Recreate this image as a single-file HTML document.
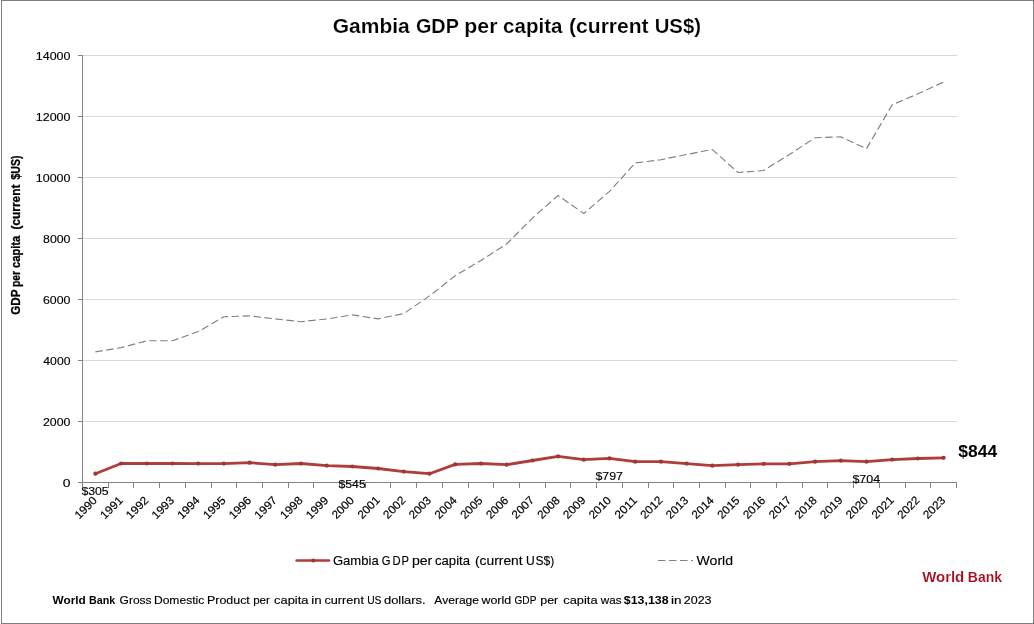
<!DOCTYPE html>
<html lang="en">
<head>
<meta charset="utf-8">
<title>Gambia GDP per capita (current US$)</title>
<style>
html,body{margin:0;padding:0;background:#fff;}
body{width:1034px;height:624px;overflow:hidden;}
svg{display:block;font-family:"Liberation Sans",sans-serif;fill:#000;}
.b{font-weight:bold;}
text{stroke-linejoin:round;}
</style>
</head>
<body>
<svg width="1034" height="624" viewBox="0 0 1034 624">
<rect x="0" y="0" width="1034" height="624" fill="#fff"/>
<g id="frame" fill="#808080"><rect x="1" y="0" width="1033" height="1"/><rect x="1" y="623" width="1033" height="1"/><rect x="1" y="0" width="1" height="624"/><rect x="1033" y="0" width="1" height="624"/></g>
<g id="grid">
<line x1="82.5" y1="421.5" x2="957.0" y2="421.5" stroke="#d8d8d8" stroke-width="1"/>
<line x1="82.5" y1="360.5" x2="957.0" y2="360.5" stroke="#d8d8d8" stroke-width="1"/>
<line x1="82.5" y1="299.5" x2="957.0" y2="299.5" stroke="#d8d8d8" stroke-width="1"/>
<line x1="82.5" y1="238.5" x2="957.0" y2="238.5" stroke="#d8d8d8" stroke-width="1"/>
<line x1="82.5" y1="177.5" x2="957.0" y2="177.5" stroke="#d8d8d8" stroke-width="1"/>
<line x1="82.5" y1="116.5" x2="957.0" y2="116.5" stroke="#d8d8d8" stroke-width="1"/>
<line x1="82.5" y1="55.5" x2="957.0" y2="55.5" stroke="#d8d8d8" stroke-width="1"/>
</g>
<g id="axes">
<line x1="82.5" y1="55.0" x2="82.5" y2="488.0" stroke="#838383" stroke-width="1"/>
<line x1="78.0" y1="482.5" x2="957.0" y2="482.5" stroke="#838383" stroke-width="1"/>
<line x1="78.0" y1="421.5" x2="82.5" y2="421.5" stroke="#838383" stroke-width="1"/>
<line x1="78.0" y1="360.5" x2="82.5" y2="360.5" stroke="#838383" stroke-width="1"/>
<line x1="78.0" y1="299.5" x2="82.5" y2="299.5" stroke="#838383" stroke-width="1"/>
<line x1="78.0" y1="238.5" x2="82.5" y2="238.5" stroke="#838383" stroke-width="1"/>
<line x1="78.0" y1="177.5" x2="82.5" y2="177.5" stroke="#838383" stroke-width="1"/>
<line x1="78.0" y1="116.5" x2="82.5" y2="116.5" stroke="#838383" stroke-width="1"/>
<line x1="78.0" y1="55.5" x2="82.5" y2="55.5" stroke="#838383" stroke-width="1"/>
<line x1="108.5" y1="482.5" x2="108.5" y2="488.0" stroke="#838383" stroke-width="1"/>
<line x1="133.5" y1="482.5" x2="133.5" y2="488.0" stroke="#838383" stroke-width="1"/>
<line x1="159.5" y1="482.5" x2="159.5" y2="488.0" stroke="#838383" stroke-width="1"/>
<line x1="185.5" y1="482.5" x2="185.5" y2="488.0" stroke="#838383" stroke-width="1"/>
<line x1="211.5" y1="482.5" x2="211.5" y2="488.0" stroke="#838383" stroke-width="1"/>
<line x1="236.5" y1="482.5" x2="236.5" y2="488.0" stroke="#838383" stroke-width="1"/>
<line x1="262.5" y1="482.5" x2="262.5" y2="488.0" stroke="#838383" stroke-width="1"/>
<line x1="288.5" y1="482.5" x2="288.5" y2="488.0" stroke="#838383" stroke-width="1"/>
<line x1="313.5" y1="482.5" x2="313.5" y2="488.0" stroke="#838383" stroke-width="1"/>
<line x1="339.5" y1="482.5" x2="339.5" y2="488.0" stroke="#838383" stroke-width="1"/>
<line x1="365.5" y1="482.5" x2="365.5" y2="488.0" stroke="#838383" stroke-width="1"/>
<line x1="390.5" y1="482.5" x2="390.5" y2="488.0" stroke="#838383" stroke-width="1"/>
<line x1="416.5" y1="482.5" x2="416.5" y2="488.0" stroke="#838383" stroke-width="1"/>
<line x1="442.5" y1="482.5" x2="442.5" y2="488.0" stroke="#838383" stroke-width="1"/>
<line x1="468.5" y1="482.5" x2="468.5" y2="488.0" stroke="#838383" stroke-width="1"/>
<line x1="493.5" y1="482.5" x2="493.5" y2="488.0" stroke="#838383" stroke-width="1"/>
<line x1="519.5" y1="482.5" x2="519.5" y2="488.0" stroke="#838383" stroke-width="1"/>
<line x1="545.5" y1="482.5" x2="545.5" y2="488.0" stroke="#838383" stroke-width="1"/>
<line x1="570.5" y1="482.5" x2="570.5" y2="488.0" stroke="#838383" stroke-width="1"/>
<line x1="596.5" y1="482.5" x2="596.5" y2="488.0" stroke="#838383" stroke-width="1"/>
<line x1="622.5" y1="482.5" x2="622.5" y2="488.0" stroke="#838383" stroke-width="1"/>
<line x1="648.5" y1="482.5" x2="648.5" y2="488.0" stroke="#838383" stroke-width="1"/>
<line x1="673.5" y1="482.5" x2="673.5" y2="488.0" stroke="#838383" stroke-width="1"/>
<line x1="699.5" y1="482.5" x2="699.5" y2="488.0" stroke="#838383" stroke-width="1"/>
<line x1="725.5" y1="482.5" x2="725.5" y2="488.0" stroke="#838383" stroke-width="1"/>
<line x1="750.5" y1="482.5" x2="750.5" y2="488.0" stroke="#838383" stroke-width="1"/>
<line x1="776.5" y1="482.5" x2="776.5" y2="488.0" stroke="#838383" stroke-width="1"/>
<line x1="802.5" y1="482.5" x2="802.5" y2="488.0" stroke="#838383" stroke-width="1"/>
<line x1="827.5" y1="482.5" x2="827.5" y2="488.0" stroke="#838383" stroke-width="1"/>
<line x1="853.5" y1="482.5" x2="853.5" y2="488.0" stroke="#838383" stroke-width="1"/>
<line x1="879.5" y1="482.5" x2="879.5" y2="488.0" stroke="#838383" stroke-width="1"/>
<line x1="905.5" y1="482.5" x2="905.5" y2="488.0" stroke="#838383" stroke-width="1"/>
<line x1="930.5" y1="482.5" x2="930.5" y2="488.0" stroke="#838383" stroke-width="1"/>
<line x1="956.5" y1="482.5" x2="956.5" y2="488.0" stroke="#838383" stroke-width="1"/>
</g>
<polyline id="world" points="95.4,351.9 121.1,347.6 146.8,340.8 172.5,340.7 198.2,331.6 223.9,316.7 249.6,315.9 275.3,318.9 301.0,321.7 326.7,319.0 352.4,314.9 378.1,318.8 403.8,313.6 429.5,295.9 455.2,275.8 480.9,260.4 506.6,244.0 532.4,218.1 558.1,195.6 583.8,213.5 609.5,191.4 635.2,163.0 660.9,159.7 686.6,154.5 712.3,149.5 738.0,172.5 763.7,170.5 789.4,154.5 815.1,137.7 840.8,136.9 866.5,148.7 892.2,104.8 917.9,93.8 943.6,82.1" fill="none" stroke="#808080" stroke-width="1.15" stroke-dasharray="7.5 3.5"/>
<polyline id="gambia" points="95.4,473.7 121.1,463.5 146.8,463.5 172.5,463.5 198.2,463.6 223.9,463.6 249.6,462.7 275.3,464.7 301.0,463.5 326.7,465.6 352.4,466.5 378.1,468.5 403.8,471.6 429.5,473.7 455.2,464.4 480.9,463.5 506.6,464.7 532.4,460.5 558.1,456.4 583.8,459.7 609.5,458.4 635.2,461.7 660.9,461.7 686.6,463.6 712.3,465.7 738.0,464.7 763.7,463.8 789.4,463.8 815.1,461.7 840.8,460.6 866.5,461.7 892.2,459.6 917.9,458.5 943.6,457.8" fill="none" stroke="#ad3e3b" stroke-width="2.8" stroke-linejoin="round" stroke-linecap="round"/>
<g id="markers" fill="#a23633">
<circle cx="95.4" cy="473.7" r="2.1"/>
<circle cx="121.1" cy="463.5" r="2.1"/>
<circle cx="146.8" cy="463.5" r="2.1"/>
<circle cx="172.5" cy="463.5" r="2.1"/>
<circle cx="198.2" cy="463.6" r="2.1"/>
<circle cx="223.9" cy="463.6" r="2.1"/>
<circle cx="249.6" cy="462.7" r="2.1"/>
<circle cx="275.3" cy="464.7" r="2.1"/>
<circle cx="301.0" cy="463.5" r="2.1"/>
<circle cx="326.7" cy="465.6" r="2.1"/>
<circle cx="352.4" cy="466.5" r="2.1"/>
<circle cx="378.1" cy="468.5" r="2.1"/>
<circle cx="403.8" cy="471.6" r="2.1"/>
<circle cx="429.5" cy="473.7" r="2.1"/>
<circle cx="455.2" cy="464.4" r="2.1"/>
<circle cx="480.9" cy="463.5" r="2.1"/>
<circle cx="506.6" cy="464.7" r="2.1"/>
<circle cx="532.4" cy="460.5" r="2.1"/>
<circle cx="558.1" cy="456.4" r="2.1"/>
<circle cx="583.8" cy="459.7" r="2.1"/>
<circle cx="609.5" cy="458.4" r="2.1"/>
<circle cx="635.2" cy="461.7" r="2.1"/>
<circle cx="660.9" cy="461.7" r="2.1"/>
<circle cx="686.6" cy="463.6" r="2.1"/>
<circle cx="712.3" cy="465.7" r="2.1"/>
<circle cx="738.0" cy="464.7" r="2.1"/>
<circle cx="763.7" cy="463.8" r="2.1"/>
<circle cx="789.4" cy="463.8" r="2.1"/>
<circle cx="815.1" cy="461.7" r="2.1"/>
<circle cx="840.8" cy="460.6" r="2.1"/>
<circle cx="866.5" cy="461.7" r="2.1"/>
<circle cx="892.2" cy="459.6" r="2.1"/>
<circle cx="917.9" cy="458.5" r="2.1"/>
<circle cx="943.6" cy="457.8" r="2.1"/>
</g>
<g id="title">
<text class="b" stroke="#fff" stroke-width="0.15" font-size="19.7" transform="translate(332.79 33.40) scale(1.0648 1)">Gambia</text>
<text class="b" stroke="#fff" stroke-width="0.15" font-size="19.7" transform="translate(415.93 33.40) scale(1.0067 1)">GDP</text>
<text class="b" stroke="#fff" stroke-width="0.15" font-size="19.7" transform="translate(464.34 33.40) scale(1.0789 1)">per</text>
<text class="b" stroke="#fff" stroke-width="0.15" font-size="19.7" transform="translate(503.10 33.40) scale(1.0428 1)">capita</text>
<text class="b" stroke="#fff" stroke-width="0.15" font-size="19.7" transform="translate(569.07 33.40) scale(1.0692 1)">(current</text>
<text class="b" stroke="#fff" stroke-width="0.15" font-size="19.7" transform="translate(654.71 33.40) scale(1.0304 1)">US$)</text>
</g>
<g id="yaxis">
<text stroke="#000" stroke-width="0.15" font-size="11.5" transform="translate(62.84 487.00) scale(1.2082 1)">0</text>
<text stroke="#000" stroke-width="0.15" font-size="11.5" transform="translate(42.98 426.00) scale(1.0752 1)">2000</text>
<text stroke="#000" stroke-width="0.15" font-size="11.5" transform="translate(43.29 365.00) scale(1.0628 1)">4000</text>
<text stroke="#000" stroke-width="0.15" font-size="11.5" transform="translate(42.98 304.00) scale(1.0752 1)">6000</text>
<text stroke="#000" stroke-width="0.15" font-size="11.5" transform="translate(43.04 243.00) scale(1.0727 1)">8000</text>
<text stroke="#000" stroke-width="0.15" font-size="11.5" transform="translate(35.76 182.00) scale(1.0865 1)">10000</text>
<text stroke="#000" stroke-width="0.15" font-size="11.5" transform="translate(35.76 121.00) scale(1.0865 1)">12000</text>
<text stroke="#000" stroke-width="0.15" font-size="11.5" transform="translate(35.76 60.00) scale(1.0865 1)">14000</text>
</g>
<g id="ytitle">
<text class="b" stroke="#000" stroke-width="0.3" font-size="12.0" transform="translate(19.7 0) rotate(-90) translate(-314.87 0.00) scale(0.9745 1)">GDP</text>
<text class="b" stroke="#000" stroke-width="0.3" font-size="12.0" transform="translate(19.7 0) rotate(-90) translate(-286.97 0.00) scale(0.8588 1)">per</text>
<text class="b" stroke="#000" stroke-width="0.3" font-size="12.0" transform="translate(19.7 0) rotate(-90) translate(-267.94 0.00) scale(0.9253 1)">capita</text>
<text class="b" stroke="#000" stroke-width="0.3" font-size="12.0" transform="translate(19.7 0) rotate(-90) translate(-229.60 0.00) scale(0.9937 1)">(current</text>
<text class="b" stroke="#000" stroke-width="0.3" font-size="12.0" transform="translate(19.7 0) rotate(-90) translate(-179.46 0.00) scale(0.8728 1)">$US)</text>
</g>
<g id="xaxis">
<text stroke="#000" stroke-width="0.18" font-size="11.5" transform="translate(97.45 501.4) rotate(-45) translate(-25.89 0.00) scale(1.0303 1)">1990</text>
<text stroke="#000" stroke-width="0.18" font-size="11.5" transform="translate(123.16 501.4) rotate(-45) translate(-25.89 0.00) scale(1.0352 1)">1991</text>
<text stroke="#000" stroke-width="0.18" font-size="11.5" transform="translate(148.86 501.4) rotate(-45) translate(-25.89 0.00) scale(1.0352 1)">1992</text>
<text stroke="#000" stroke-width="0.18" font-size="11.5" transform="translate(174.57 501.4) rotate(-45) translate(-25.89 0.00) scale(1.0327 1)">1993</text>
<text stroke="#000" stroke-width="0.18" font-size="11.5" transform="translate(200.28 501.4) rotate(-45) translate(-25.88 0.00) scale(1.0254 1)">1994</text>
<text stroke="#000" stroke-width="0.18" font-size="11.5" transform="translate(225.98 501.4) rotate(-45) translate(-25.89 0.00) scale(1.0303 1)">1995</text>
<text stroke="#000" stroke-width="0.18" font-size="11.5" transform="translate(251.69 501.4) rotate(-45) translate(-25.89 0.00) scale(1.0327 1)">1996</text>
<text stroke="#000" stroke-width="0.18" font-size="11.5" transform="translate(277.39 501.4) rotate(-45) translate(-25.89 0.00) scale(1.0352 1)">1997</text>
<text stroke="#000" stroke-width="0.18" font-size="11.5" transform="translate(303.10 501.4) rotate(-45) translate(-25.89 0.00) scale(1.0327 1)">1998</text>
<text stroke="#000" stroke-width="0.18" font-size="11.5" transform="translate(328.81 501.4) rotate(-45) translate(-25.89 0.00) scale(1.0352 1)">1999</text>
<text stroke="#000" stroke-width="0.18" font-size="11.5" transform="translate(354.51 501.4) rotate(-45) translate(-25.59 0.00) scale(1.0182 1)">2000</text>
<text stroke="#000" stroke-width="0.18" font-size="11.5" transform="translate(380.22 501.4) rotate(-45) translate(-25.59 0.00) scale(1.0230 1)">2001</text>
<text stroke="#000" stroke-width="0.18" font-size="11.5" transform="translate(405.92 501.4) rotate(-45) translate(-25.59 0.00) scale(1.0230 1)">2002</text>
<text stroke="#000" stroke-width="0.18" font-size="11.5" transform="translate(431.63 501.4) rotate(-45) translate(-25.59 0.00) scale(1.0206 1)">2003</text>
<text stroke="#000" stroke-width="0.18" font-size="11.5" transform="translate(457.34 501.4) rotate(-45) translate(-25.58 0.00) scale(1.0135 1)">2004</text>
<text stroke="#000" stroke-width="0.18" font-size="11.5" transform="translate(483.04 501.4) rotate(-45) translate(-25.59 0.00) scale(1.0182 1)">2005</text>
<text stroke="#000" stroke-width="0.18" font-size="11.5" transform="translate(508.75 501.4) rotate(-45) translate(-25.59 0.00) scale(1.0206 1)">2006</text>
<text stroke="#000" stroke-width="0.18" font-size="11.5" transform="translate(534.45 501.4) rotate(-45) translate(-25.59 0.00) scale(1.0230 1)">2007</text>
<text stroke="#000" stroke-width="0.18" font-size="11.5" transform="translate(560.16 501.4) rotate(-45) translate(-25.59 0.00) scale(1.0206 1)">2008</text>
<text stroke="#000" stroke-width="0.18" font-size="11.5" transform="translate(585.86 501.4) rotate(-45) translate(-25.59 0.00) scale(1.0230 1)">2009</text>
<text stroke="#000" stroke-width="0.18" font-size="11.5" transform="translate(611.57 501.4) rotate(-45) translate(-25.59 0.00) scale(1.0182 1)">2010</text>
<text stroke="#000" stroke-width="0.18" font-size="11.5" transform="translate(637.28 501.4) rotate(-45) translate(-25.61 0.00) scale(1.0604 1)">2011</text>
<text stroke="#000" stroke-width="0.18" font-size="11.5" transform="translate(662.98 501.4) rotate(-45) translate(-25.59 0.00) scale(1.0230 1)">2012</text>
<text stroke="#000" stroke-width="0.18" font-size="11.5" transform="translate(688.69 501.4) rotate(-45) translate(-25.59 0.00) scale(1.0206 1)">2013</text>
<text stroke="#000" stroke-width="0.18" font-size="11.5" transform="translate(714.39 501.4) rotate(-45) translate(-25.58 0.00) scale(1.0135 1)">2014</text>
<text stroke="#000" stroke-width="0.18" font-size="11.5" transform="translate(740.10 501.4) rotate(-45) translate(-25.59 0.00) scale(1.0182 1)">2015</text>
<text stroke="#000" stroke-width="0.18" font-size="11.5" transform="translate(765.81 501.4) rotate(-45) translate(-25.59 0.00) scale(1.0206 1)">2016</text>
<text stroke="#000" stroke-width="0.18" font-size="11.5" transform="translate(791.51 501.4) rotate(-45) translate(-25.59 0.00) scale(1.0230 1)">2017</text>
<text stroke="#000" stroke-width="0.18" font-size="11.5" transform="translate(817.22 501.4) rotate(-45) translate(-25.59 0.00) scale(1.0206 1)">2018</text>
<text stroke="#000" stroke-width="0.18" font-size="11.5" transform="translate(842.92 501.4) rotate(-45) translate(-25.59 0.00) scale(1.0230 1)">2019</text>
<text stroke="#000" stroke-width="0.18" font-size="11.5" transform="translate(868.63 501.4) rotate(-45) translate(-25.59 0.00) scale(1.0182 1)">2020</text>
<text stroke="#000" stroke-width="0.18" font-size="11.5" transform="translate(894.34 501.4) rotate(-45) translate(-25.59 0.00) scale(1.0230 1)">2021</text>
<text stroke="#000" stroke-width="0.18" font-size="11.5" transform="translate(920.04 501.4) rotate(-45) translate(-25.59 0.00) scale(1.0230 1)">2022</text>
<text stroke="#000" stroke-width="0.18" font-size="11.5" transform="translate(945.75 501.4) rotate(-45) translate(-25.59 0.00) scale(1.0206 1)">2023</text>
</g>
<g id="labels">
<text stroke="#000" stroke-width="0.15" font-size="11.5" transform="translate(81.38 495.00) scale(1.0675 1)">$305</text>
<text stroke="#000" stroke-width="0.15" font-size="11.5" transform="translate(338.48 487.90) scale(1.0675 1)">$545</text>
<text stroke="#000" stroke-width="0.15" font-size="11.5" transform="translate(595.38 480.00) scale(1.0764 1)">$797</text>
<text stroke="#000" stroke-width="0.15" font-size="11.5" transform="translate(852.38 483.00) scale(1.0865 1)">$704</text>
<text class="b" font-size="16.1" transform="translate(958.34 456.90) scale(1.0873 1)">$844</text>
</g>
<g id="legend">
<line x1="296.7" y1="560.5" x2="329" y2="560.5" stroke="#ad3e3b" stroke-width="2.7" stroke-linecap="round"/>
<circle cx="313.3" cy="560.5" r="2.1" fill="#a23633"/>
<text stroke="#000" stroke-width="0.15" font-size="13.4" transform="translate(332.95 564.60) scale(0.9756 1)">Gambia</text>
<text stroke="#000" stroke-width="0.15" font-size="13.4" transform="translate(0 564.60) scale(0.8362 1)" x="456.40 469.32 480.06">GDP</text>
<text stroke="#000" stroke-width="0.15" font-size="13.4" transform="translate(411.88 564.60) scale(1.0552 1)">per</text>
<text stroke="#000" stroke-width="0.15" font-size="13.4" transform="translate(435.01 564.60) scale(0.9780 1)">capita</text>
<text stroke="#000" stroke-width="0.15" font-size="13.4" transform="translate(474.97 564.60) scale(1.0333 1)">(current</text>
<text stroke="#000" stroke-width="0.15" font-size="13.4" transform="translate(0 564.60) scale(0.9014 1)" x="583.46 594.05 602.99 610.44">US$)</text>
<line x1="658" y1="560.5" x2="693" y2="560.5" stroke="#808080" stroke-width="1.1" stroke-dasharray="7.5 3.5"/>
<text stroke="#000" stroke-width="0.15" font-size="13.4" transform="translate(696.53 564.80) scale(1.0522 1)">World</text>
</g>
<g id="source">
<text class="b" fill="#a80c1c" stroke="#fff" stroke-width="0.1" font-size="13.8" transform="translate(922.25 581.80) scale(1.0804 1)">World</text>
<text class="b" fill="#a80c1c" stroke="#fff" stroke-width="0.1" font-size="13.8" transform="translate(967.84 581.80) scale(1.0139 1)">Bank</text>
</g>
<g id="footer">
<text class="b" font-size="11.7" transform="translate(52.50 604.00) scale(1.0101 1)">World</text>
<text class="b" font-size="11.7" transform="translate(89.00 604.00) scale(0.9158 1)">Bank</text>
<text stroke="#000" stroke-width="0.15" font-size="11.7" transform="translate(119.60 604.00) scale(1.0270 1)">Gross</text>
<text stroke="#000" stroke-width="0.15" font-size="11.7" transform="translate(153.93 604.00) scale(1.0336 1)">Domestic</text>
<text stroke="#000" stroke-width="0.15" font-size="11.7" transform="translate(207.00 604.00) scale(1.0633 1)">Product</text>
<text stroke="#000" stroke-width="0.15" font-size="11.7" transform="translate(253.14 604.00) scale(0.9956 1)">per</text>
<text stroke="#000" stroke-width="0.15" font-size="11.7" transform="translate(274.12 604.00) scale(1.1005 1)">capita</text>
<text stroke="#000" stroke-width="0.15" font-size="11.7" transform="translate(311.33 604.00) scale(1.1440 1)">in</text>
<text stroke="#000" stroke-width="0.15" font-size="11.7" transform="translate(324.43 604.00) scale(1.0865 1)">current</text>
<text stroke="#000" stroke-width="0.15" font-size="11.7" transform="translate(367.13 604.00) scale(0.8816 1)">US</text>
<text stroke="#000" stroke-width="0.15" font-size="11.7" transform="translate(383.98 604.00) scale(1.1046 1)">dollars.</text>
<text stroke="#000" stroke-width="0.15" font-size="11.7" transform="translate(434.34 604.00) scale(1.0313 1)">Average</text>
<text stroke="#000" stroke-width="0.15" font-size="11.7" transform="translate(481.40 604.00) scale(1.0661 1)">world</text>
<text stroke="#000" stroke-width="0.15" font-size="11.7" transform="translate(514.49 604.00) scale(0.8650 1)">GDP</text>
<text stroke="#000" stroke-width="0.15" font-size="11.7" transform="translate(540.30 604.00) scale(1.0582 1)">per</text>
<text stroke="#000" stroke-width="0.15" font-size="11.7" transform="translate(563.22 604.00) scale(1.1005 1)">capita</text>
<text stroke="#000" stroke-width="0.15" font-size="11.7" transform="translate(600.80 604.00) scale(0.9972 1)">was</text>
<text class="b" font-size="11.7" transform="translate(623.81 604.00) scale(1.0606 1)">$13,138</text>
<text stroke="#000" stroke-width="0.15" font-size="11.7" transform="translate(670.92 604.00) scale(1.1571 1)">in</text>
<text stroke="#000" stroke-width="0.15" font-size="11.7" transform="translate(683.78 604.00) scale(1.0674 1)">2023</text>
</g>
</svg>
</body>
</html>
